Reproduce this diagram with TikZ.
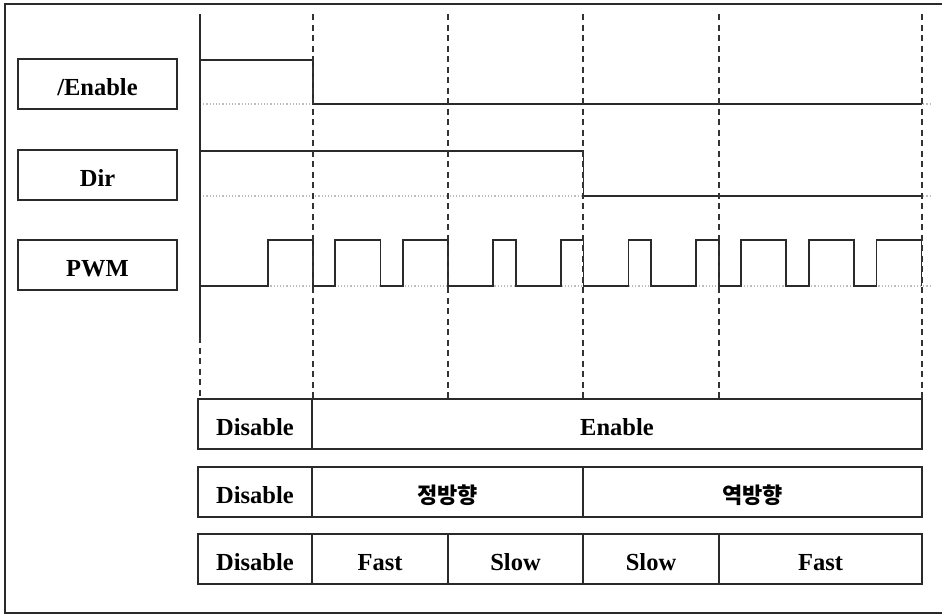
\documentclass[tikz,border=0pt]{standalone}
\usepackage{fontspec}
\setmainfont{Liberation Serif}
\newfontfamily\kofont{Noto Sans CJK KR}
\usepackage{tikz}
\usetikzlibrary{positioning}
\definecolor{sigline}{HTML}{2A2A2A}
\definecolor{dashline}{HTML}{333333}
\definecolor{basegray}{HTML}{BDBDBD}
\tikzset{
  signal/.style={draw=sigline, line width=1.7pt},
  tick/.style={draw=dashline, line width=1.8pt, dash pattern=on 6pt off 4.5pt},
  zero/.style={draw=basegray, line width=1.2pt, dotted},
  namebox/.style={draw=sigline, line width=1.5pt, minimum width=159pt, minimum height=50pt,
    text height=22pt, text depth=0pt, outer sep=0pt,
    font=\fontsize{24.5}{28}\selectfont\bfseries},
  cell/.style={draw=sigline, line width=1.5pt, minimum height=50pt, inner sep=0pt,
    text height=22pt, text depth=0pt, outer sep=0pt,
    font=\fontsize{24.5}{28}\selectfont\bfseries},
  kocell/.style={cell, font=\fontsize{22}{28}\selectfont\kofont\bfseries}
}

\begin{document}
\begin{tikzpicture}[x=1pt, y=-1pt]
  \useasboundingbox (0,0) rectangle (942,614);
  % frame
  \draw[sigline, line width=1.4pt] (942,4) -- (5,4) -- (5,613) -- (942,613);

  % signal names
  \node[namebox] (en) at (97.5,84) {/Enable};
  \node[namebox] (dir) at (97.5,175) {Dir};
  \node[namebox] (pwm) at (97.5,265) {PWM};

  % waveforms, time in thirds of a PWM period
  \begin{scope}[shift={(200pt,0pt)}, x=22.55pt]
    \foreach \y in {104,196,286}
      \draw[zero] (0,\y) -- (32.4,\y);
    \draw[signal] (0,60) -- (5,60) -- (5,104) -- (32,104);
    \draw[signal] (0,151) -- (17,151) -- (17,196) -- (32,196);
    \draw[signal] (0,286)
      foreach \a/\b in {3/5,6/8,9/11,13/14,16/17,19/20,22/23,24/26,27/29,30/32}
        { -- (\a,286) -- (\a,240) -- (\b,240) -- (\b,286) };
    \draw[signal] (0,14) -- (0,337);
    \draw[tick] (0,337) -- (0,399);
    \foreach \t in {5,11,17,23,32}
      \draw[tick] (\t,14) -- (\t,399);
  \end{scope}

  % state tables
  \node[cell, minimum width=114pt] (dis1) at (255,424) {Disable};
  \node[cell, minimum width=610pt, right=0pt of dis1] (ena) {Enable};

  \node[cell, minimum width=114pt] (dis2) at (255,492) {Disable};
  \node[kocell, minimum width=271pt, right=0pt of dis2] (fwd) {정방향};
  \node[kocell, minimum width=339pt, right=0pt of fwd] (rev) {역방향};

  \node[cell, minimum width=114pt] (dis3) at (255,559) {Disable};
  \node[cell, minimum width=136pt, right=0pt of dis3] (fast1) {Fast};
  \node[cell, minimum width=135pt, right=0pt of fast1] (slow1) {Slow};
  \node[cell, minimum width=136pt, right=0pt of slow1] (slow2) {Slow};
  \node[cell, minimum width=203pt, right=0pt of slow2] (fast2) {Fast};
\end{tikzpicture}
\end{document}
